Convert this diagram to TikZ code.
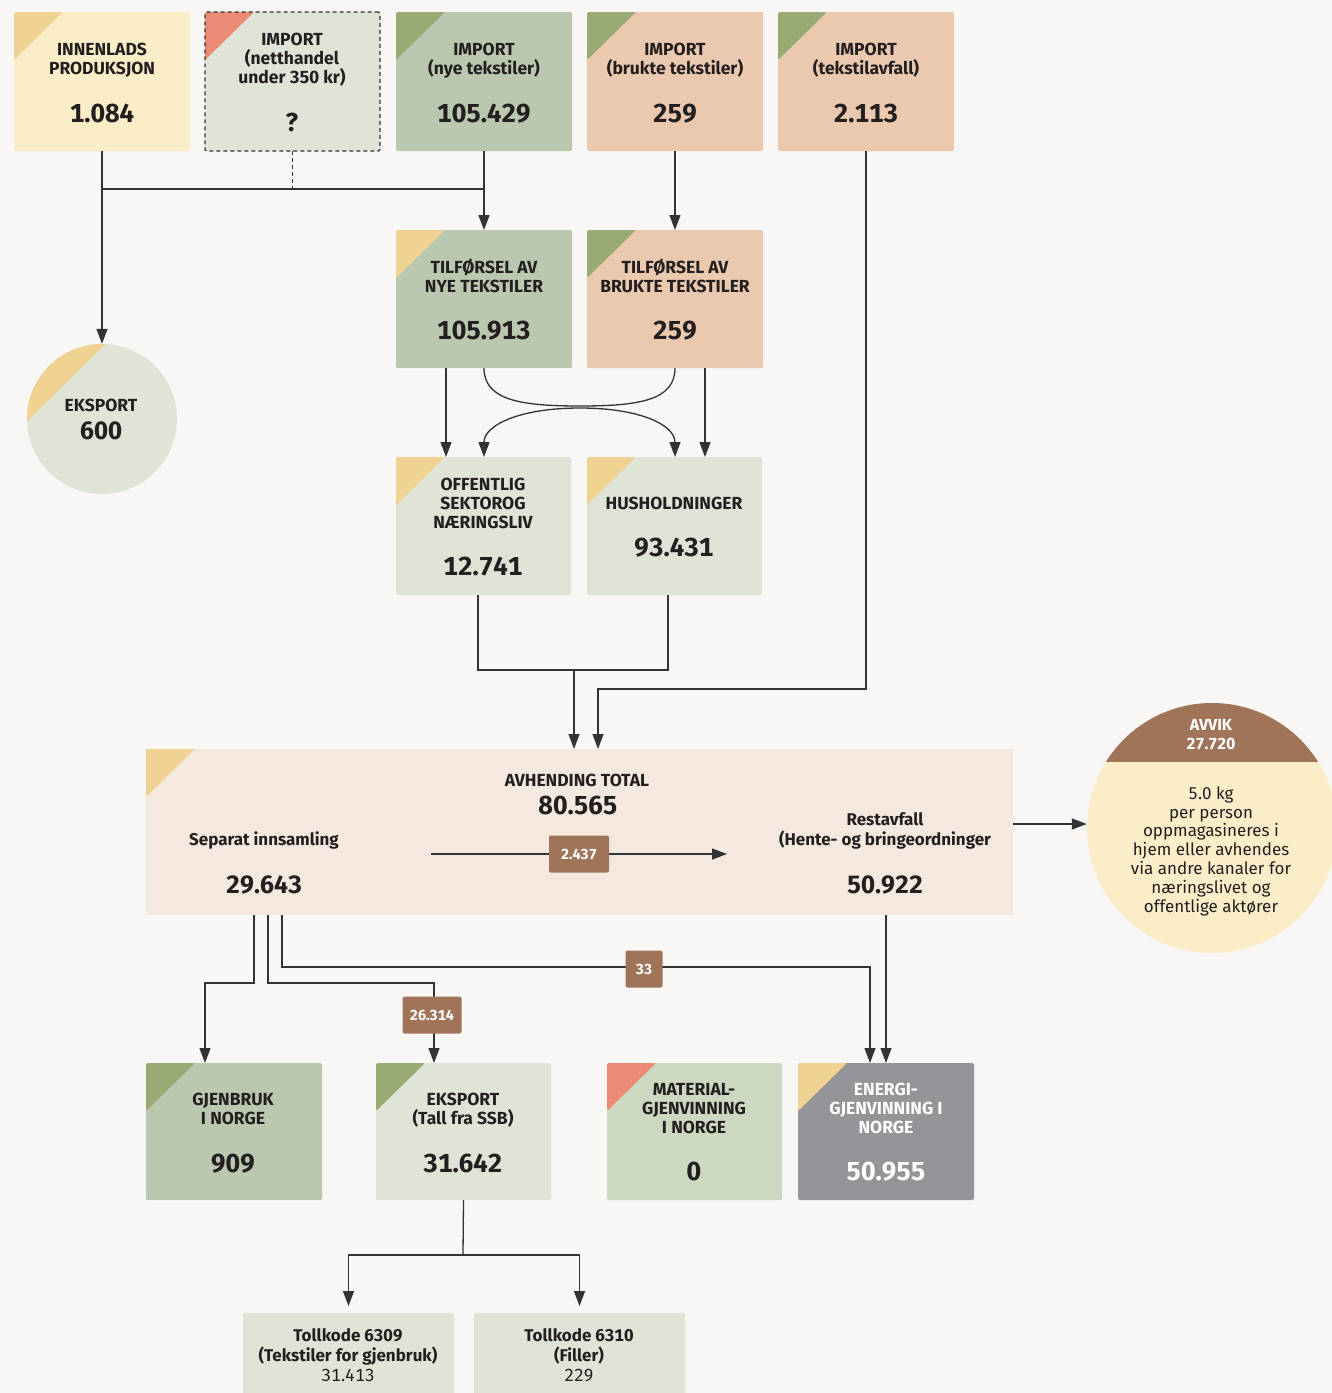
\documentclass[tikz,border=0pt]{standalone}
\usepackage{fontspec}
\setmainfont[Numbers=Monospaced]{Fira Sans}
\usetikzlibrary{arrows.meta,calc}
\definecolor{bg}{HTML}{F8F7F5}
\definecolor{lyellow}{HTML}{FCEDC9}
\definecolor{cyellow}{HTML}{F0D392}
\definecolor{csalmon}{HTML}{EC8B73}
\definecolor{cgreen}{HTML}{9AAA74}
\definecolor{mgreen}{HTML}{BAC8AF}
\definecolor{lgrey}{HTML}{DFE4D7}
\definecolor{peach}{HTML}{EAC9AF}
\definecolor{avhfill}{HTML}{F5E9DF}
\definecolor{matfill}{HTML}{CDD8C0}
\definecolor{egrey}{HTML}{939598}
\definecolor{brwn}{HTML}{A07458}
\definecolor{txt}{HTML}{231F20}
\definecolor{lnc}{HTML}{333333}
\begin{document}
\begin{tikzpicture}[x=1pt,y=-1pt,
  bxs/.style={draw=none, rounded corners=1.5pt, inner sep=0pt, outer sep=0pt, anchor=north west},
  crn/.style={path picture={\fill[#1] (path picture bounding box.north west) -- ++(49pt,0pt) -- ++(-49pt,-48pt) -- cycle;}},
  ttl/.style={anchor=base, align=center, inner sep=0pt, text=txt, font=\bfseries\fontsize{17.5}{19}\selectfont},
  num/.style={anchor=base, align=center, inner sep=0pt, text=txt, font=\bfseries\fontsize{26}{28}\selectfont},
  sml/.style={anchor=base, align=center, inner sep=0pt, text=txt, font=\bfseries\fontsize{17}{20}\selectfont},
  lab/.style={fill=brwn, text=white, rounded corners=2pt, inner sep=0pt, minimum height=37pt, font=\bfseries\fontsize{14.5}{15}\selectfont},
  ln/.style={draw=lnc, line width=1.3pt},
  arr/.style={ln, -{Triangle[length=15pt,width=11pt]}}
]
\fill[bg] (0,0) rectangle (1332,1393);
\useasboundingbox (0,0) rectangle (1332,1393);

% ---------- top row ----------
\node[bxs, fill=lyellow, crn=cyellow, minimum width=176pt, minimum height=139pt] (innen) at (14,12) {};
\node[bxs, fill=lgrey, crn=csalmon, minimum width=175pt, minimum height=139pt, draw=lnc, line width=1.2pt, dash pattern=on 4pt off 3pt] (netth) at (205,12) {};
\node[bxs, fill=mgreen, crn=cgreen, minimum width=176pt, minimum height=139pt] (impnye) at (396,12) {};
\node[bxs, fill=peach, crn=cgreen, minimum width=176pt, minimum height=139pt] (impbr) at (587,12) {};
\node[bxs, fill=peach, crn=cgreen, minimum width=176pt, minimum height=139pt] (impavf) at (778,12) {};

\node[ttl] (innen-t) at (102,74) {INNENLADS\\PRODUKSJON};
\node[num] (innen-n) at (102,122) {1.084};
\node[ttl] (netth-t) at (292,83) {IMPORT\\(netthandel\\under 350 kr)};
\node[num] (netth-n) at (292,131) {?};
\node[ttl] (impnye-t) at (484,74) {IMPORT\\(nye tekstiler)};
\node[num] (impnye-n) at (484,122) {105.429};
\node[ttl] (impbr-t) at (675,74) {IMPORT\\(brukte tekstiler)};
\node[num] (impbr-n) at (675,122) {259};
\node[ttl] (impavf-t) at (866,74) {IMPORT\\(tekstilavfall)};
\node[num] (impavf-n) at (866,122) {2.113};

% ---------- second row ----------
\node[bxs, fill=mgreen, crn=cyellow, minimum width=176pt, minimum height=138pt] (tilnye) at (396,230) {};
\node[bxs, fill=peach, crn=cgreen, minimum width=176pt, minimum height=138pt] (tilbr) at (587,230) {};
\node[ttl] (tilnye-t) at (484,292) {TILFØRSEL AV\\NYE TEKSTILER};
\node[num] (tilnye-n) at (484,339) {105.913};
\node[ttl] (tilbr-t) at (675,292) {TILFØRSEL AV\\BRUKTE TEKSTILER};
\node[num] (tilbr-n) at (675,339) {259};

% ---------- eksport circle ----------
\node[circle, fill=lgrey, minimum size=150pt, inner sep=0pt,
  path picture={\fill[cyellow] ($(path picture bounding box.north west)+(103pt,24pt)$) -- ++(-130pt,-128pt) -- ++(0pt,128pt) -- cycle;}] (ekspc) at (102,419) {};
\node[ttl, font=\bfseries\fontsize{17.5}{19}\selectfont] (ekspc-t) at (101,411) {EKSPORT};
\node[num, font=\bfseries\fontsize{25}{28}\selectfont] (ekspc-n) at (101,439) {600};

% ---------- third row ----------
\node[bxs, fill=lgrey, crn=cyellow, minimum width=175pt, minimum height=138pt] (offent) at (396,457) {};
\node[bxs, fill=lgrey, crn=cyellow, minimum width=175pt, minimum height=138pt] (hush) at (587,457) {};
\node[ttl] (offent-t) at (483,528) {OFFENTLIG\\SEKTOROG\\NÆRINGSLIV};
\node[num] (offent-n) at (483,575) {12.741};
\node[ttl] (hush-t) at (674,509) {HUSHOLDNINGER};
\node[num] (hush-n) at (674,556) {93.431};

% ---------- avhending ----------
\node[bxs, fill=avhfill, crn=cyellow, rounded corners=0pt, minimum width=867pt, minimum height=166pt] (avhend) at (146,749) {};
\node[ttl] (avh-t) at (577,786) {AVHENDING TOTAL};
\node[num] (avh-n) at (578,814) {80.565};
\node[ttl, font=\bfseries\fontsize{17}{19}\selectfont] (sep-t) at (264,845) {Separat innsamling};
\node[num, font=\bfseries\fontsize{25}{28}\selectfont] (sep-n) at (264,893) {29.643};
\node[ttl, font=\bfseries\fontsize{17}{19.5}\selectfont] (rest-t) at (885,845) {Restavfall\\(Hente- og bringeordninger};
\node[num, font=\bfseries\fontsize{25}{28}\selectfont] (rest-n) at (885,893) {50.922};

\coordinate (a1) at (431,854);
\coordinate (a2) at (727,854);
\draw[arr] (a1) -- (a2);
\node[lab, minimum width=60pt] (lab1) at (579,854) {2.437};

% ---------- avvik circle ----------
\node[circle, fill=lyellow, minimum size=250pt, inner sep=0pt,
  path picture={\fill[brwn] (path picture bounding box.north west) rectangle ($(path picture bounding box.north east)+(0pt,-59pt)$);}] (avvik) at (1212,828) {};
\node[anchor=base, align=center, inner sep=0pt, text=white, font=\bfseries\fontsize{16}{19}\selectfont] (avvik-t) at (1211,749) {AVVIK\\27.720};
\node[anchor=base, align=center, inner sep=0pt, text=txt, font=\fontsize{17}{18.8}\selectfont] (avvik-b) at (1211,912) {5.0 kg\\per person\\oppmagasineres i\\hjem eller avhendes\\via andre kanaler for\\næringslivet og\\offentlige aktører};

% ---------- bottom row ----------
\node[bxs, fill=mgreen, crn=cgreen, minimum width=176pt, minimum height=137pt] (gjen) at (146,1063) {};
\node[bxs, fill=lgrey, crn=cgreen, minimum width=175pt, minimum height=137pt] (eksp2) at (376,1063) {};
\node[bxs, fill=matfill, crn=csalmon, minimum width=175pt, minimum height=137pt] (mat) at (607,1063) {};
\node[bxs, fill=egrey, crn=cyellow, minimum width=176pt, minimum height=137pt] (energi) at (798,1063) {};
\node[ttl] (gjen-t) at (233,1124) {GJENBRUK\\I NORGE};
\node[num] (gjen-n) at (233,1172) {909};
\node[ttl] (eksp2-t) at (463,1124) {EKSPORT\\(Tall fra SSB)};
\node[num] (eksp2-n) at (463,1172) {31.642};
\node[ttl] (mat-t) at (694,1133) {MATERIAL-\\GJENVINNING\\I NORGE};
\node[num] (mat-n) at (694,1180) {0};
\node[ttl, text=white] (energi-t) at (886,1133) {ENERGI-\\GJENVINNING I\\NORGE};
\node[num, text=white] (energi-n) at (886,1180) {50.955};

% ---------- tollkode ----------
\node[bxs, fill=lgrey, minimum width=211pt, minimum height=85pt] (toll1) at (243,1313) {};
\node[bxs, fill=lgrey, minimum width=211pt, minimum height=85pt] (toll2) at (474,1313) {};
\node[sml] (toll1-t) at (348,1361) {Tollkode 6309\\(Tekstiler for gjenbruk)};
\node[sml, font=\fontsize{17.5}{20}\selectfont] (toll1-n) at (348,1381) {31.413};
\node[sml] (toll2-t) at (579,1361) {Tollkode 6310\\(Filler)};
\node[sml, font=\fontsize{17.5}{20}\selectfont] (toll2-n) at (579,1381) {229};

% ---------- connectors ----------
\coordinate (j1) at (102,189);
\coordinate (j2) at (484,189);
\draw[arr] (innen.south) -- (ekspc.north);
\draw[ln] (j1) -- (j2);
\draw[ln, dash pattern=on 4pt off 3pt] (netth.south) -- (netth.south |- j1);
\draw[arr] (impnye.south) -- (tilnye.north);
\draw[arr] (impbr.south) -- (tilbr.north);
\coordinate (k1) at (598,689);
\draw[arr] (impavf.south) |- (k1) -- (k1 |- avhend.north);

\draw[arr] ([xshift=-38pt]tilnye.south) -- ([xshift=-38pt]tilnye.south |- offent.north);
\draw[arr] ([xshift=30pt]tilbr.south) -- ([xshift=30pt]tilbr.south |- hush.north);
\coordinate (um) at (580,406);
\coordinate (nm) at (580,408);
\draw[ln] (tilnye.south) .. controls +(0,32) and +(-60,0) .. (um) .. controls +(60,0) and +(0,32) .. (tilbr.south);
\draw[ln, {Triangle[length=15pt,width=11pt]}-{Triangle[length=15pt,width=11pt]}] (tilnye.south |- offent.north) .. controls +(0,-32) and +(-60,0) .. (nm) .. controls +(60,0) and +(0,-32) .. (tilbr.south |- hush.north);

\coordinate (m1) at (478,670);
\coordinate (m2) at (668,670);
\coordinate (m3) at (574,670);
\draw[ln] (m1 |- offent.south) -- (m1) -- (m2) -- (m2 |- hush.south);
\draw[arr] (m3) -- (m3 |- avhend.north);

\draw[arr] ([yshift=8pt]avhend.east) -- ([yshift=8pt]avhend.east -| avvik.west);

\coordinate (s1) at (254,983);
\coordinate (s2) at (268,983);
\coordinate (s3) at (282,967);
\coordinate (g1) at (205,983);
\coordinate (e1) at (434,983);
\coordinate (n1) at (870,967);
\draw[arr] (s1 |- avhend.south) -- (s1) -- (g1) -- (g1 |- gjen.north);
\draw[arr] (s2 |- avhend.south) -- (s2) -- (e1) -- (e1 |- eksp2.north);
\draw[arr] (s3 |- avhend.south) -- (s3) -- (n1) -- (n1 |- energi.north);
\draw[arr] (energi.north |- avhend.south) -- (energi.north);
\node[lab, minimum width=59pt] (lab2) at (432,1015) {26.314};
\node[lab, minimum width=37pt] (lab3) at (644,969) {33};

\coordinate (t0) at (463,1255);
\draw[ln] (eksp2.south) -- (t0);
\draw[arr, shorten >=7pt] (t0) -| (toll1.north);
\draw[arr, shorten >=7pt] (t0) -| (toll2.north);
\end{tikzpicture}
\end{document}
